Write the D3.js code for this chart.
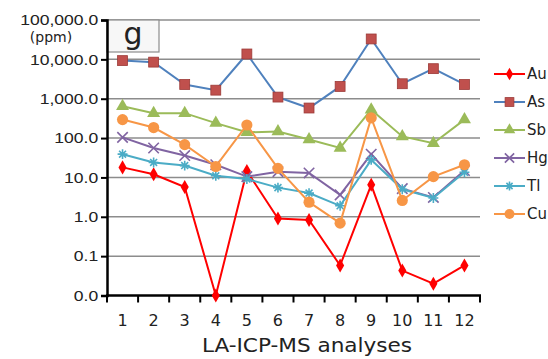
<!DOCTYPE html>
<html>
<head>
<meta charset="utf-8">
<script src="https://cdn.jsdelivr.net/npm/d3@7"></script>
<style>
  html, body { margin: 0; padding: 0; background: #fff; }
  svg { display: block; font-family: "DejaVu Sans", Verdana, sans-serif; }
</style>
</head>
<body>
<svg id="chart" width="548" height="359"></svg>
<script>
// analyses 1..12
const analyses = [ 1, 2, 3, 4, 5, 6, 7, 8, 9, 10, 11, 12 ];
const yTicks = [ 0.01, 0.1, 1, 10, 100, 1000, 10000, 100000 ];

// ppm values (0.01 = "0.0" floor)
const au = [ 18, 12, 5.7, 0.01, 14.5, 0.9, 0.83, 0.058, 6.5, 0.043, 0.02, 0.058 ];
const as = [ 9300, 8500, 2300, 1650, 13700, 1100, 580, 2050, 33000, 2400, 5800, 2300 ];
const sb = [ 640, 430, 430, 240, 140, 147, 92, 56, 525, 110, 74, 295 ];
const hg = [ 104, 56, 36, 21, 10.5, 14, 13, 3.6, 39, 5.2, 3.1, 15 ];
const tl = [ 39, 24, 20, 11, 9.1, 5.5, 4.0, 1.9, 28, 5.0, 3.0, 13.5 ];
const cu = [ 295, 185, 68, 19, 215, 17, 2.35, 0.69, 325, 2.6, 10.5, 21 ];

const series = [
	{ name: 'Au', values: au, line: '#ff0000', fill: '#ff0000', marker: 'diamond' },
	{ name: 'As', values: as, line: '#4f81bd', fill: '#c0504d', marker: 'square' },
	{ name: 'Sb', values: sb, line: '#9bbb59', fill: '#9bbb59', marker: 'triangle' },
	{ name: 'Hg', values: hg, line: '#8064a2', fill: '#8064a2', marker: 'cross' },
	{ name: 'Tl', values: tl, line: '#4bacc6', fill: '#4bacc6', marker: 'star' },
	{ name: 'Cu', values: cu, line: '#f79646', fill: '#f79646', marker: 'circle' },
];

const margin = { top: 20, left: 107, right: 480, bottom: 295.5 };

const svg = d3.select( '#chart' );

const x = d3.scaleBand()
	.domain( analyses )
	.range( [ margin.left, margin.right ] );

const y = d3.scaleLog()
	.domain( [ 0.01, 100000 ] )
	.range( [ margin.bottom, margin.top ] );

const cx = d => x( d ) + x.bandwidth() / 2;

// grid
svg.append( 'g' )
	.selectAll( 'line' )
	.data( yTicks.slice( 1 ) )
	.join( 'line' )
	.attr( 'x1', margin.left )
	.attr( 'x2', margin.right )
	.attr( 'y1', d => y( d ) )
	.attr( 'y2', d => y( d ) )
	.attr( 'stroke', '#8c8c8c' )
	.attr( 'stroke-width', 1.5 );

// "g" panel label
svg.append( 'rect' )
	.attr( 'x', margin.left )
	.attr( 'y', margin.top )
	.attr( 'width', 52 )
	.attr( 'height', 32 )
	.attr( 'fill', '#f7f7f7' )
	.attr( 'stroke', '#8c8c8c' )
	.attr( 'stroke-width', 1.2 );

svg.append( 'text' )
	.attr( 'x', margin.left + 26 )
	.attr( 'y', margin.top + 24 )
	.attr( 'text-anchor', 'middle' )
	.style( 'font-size', '30px' )
	.attr( 'fill', '#222' )
	.text( 'g' );

// y axis
const yAxis = d3.axisLeft( y )
	.tickValues( yTicks )
	.tickFormat( d3.format( ',.1f' ) )
	.tickSize( 6 )
	.tickPadding( 2 );

const yg = svg.append( 'g' )
	.attr( 'transform', `translate(${ margin.left },0)` )
	.call( yAxis );
yg.select( '.domain' ).attr( 'stroke', '#000' ).attr( 'stroke-width', 2.5 );
yg.selectAll( '.tick line' ).attr( 'stroke', '#000' ).attr( 'stroke-width', 2 );
yg.selectAll( 'text' )
	.attr( 'x', -7.5 )
	.attr( 'transform', 'scale(1.17,1)' )
	.style( 'font-size', '15px' )
	.attr( 'fill', '#222' )
	.attr( 'font-family', null );

svg.append( 'text' )
	.attr( 'x', 51 )
	.attr( 'y', 42 )
	.attr( 'text-anchor', 'middle' )
	.style( 'font-size', '14px' )
	.attr( 'fill', '#222' )
	.text( '(ppm)' );

// x axis: ticks at band edges, labels at centres
const xg = svg.append( 'g' );
xg.append( 'line' )
	.attr( 'x1', margin.left - 1 )
	.attr( 'x2', margin.right + 1 )
	.attr( 'y1', margin.bottom )
	.attr( 'y2', margin.bottom )
	.attr( 'stroke', '#000' )
	.attr( 'stroke-width', 2.5 );

const edges = analyses.map( d => x( d ) ).concat( [ margin.right ] );
xg.selectAll( 'line.tick' )
	.data( edges )
	.join( 'line' )
	.attr( 'class', 'tick' )
	.attr( 'x1', d => d )
	.attr( 'x2', d => d )
	.attr( 'y1', margin.bottom )
	.attr( 'y2', margin.bottom + 7 )
	.attr( 'stroke', '#000' )
	.attr( 'stroke-width', 2 );

xg.selectAll( 'text' )
	.data( analyses )
	.join( 'text' )
	.attr( 'x', cx )
	.attr( 'y', 326 )
	.attr( 'text-anchor', 'middle' )
	.style( 'font-size', '16px' )
	.attr( 'fill', '#222' )
	.text( d => d );

svg.append( 'text' )
	.attr( 'transform', 'translate(307,352) scale(1.08,1)' )
	.attr( 'text-anchor', 'middle' )
	.style( 'font-size', '20px' )
	.attr( 'fill', '#222' )
	.text( 'LA-ICP-MS analyses' );

// markers
function drawMarker( sel, s, size ) {
	if ( s.marker === 'circle' ) {
		sel.append( 'circle' ).attr( 'r', size * 0.62 ).attr( 'fill', s.fill );
	} else if ( s.marker === 'square' ) {
		sel.append( 'rect' )
			.attr( 'x', -size * 0.55 ).attr( 'y', -size * 0.55 )
			.attr( 'width', size * 1.1 ).attr( 'height', size * 1.1 )
			.attr( 'fill', s.fill ).attr( 'stroke', '#9c3a37' ).attr( 'stroke-width', 0.8 );
	} else if ( s.marker === 'diamond' ) {
		sel.append( 'path' )
			.attr( 'd', d3.symbol( d3.symbolDiamond, size * size * 0.7 )() )
			.attr( 'fill', s.fill );
	} else if ( s.marker === 'triangle' ) {
		sel.append( 'path' )
			.attr( 'd', d3.symbol( d3.symbolTriangle, size * size * 0.9 )() )
			.attr( 'fill', s.fill );
	} else if ( s.marker === 'cross' ) {
		sel.append( 'path' )
			.attr( 'd', d3.symbol( d3.symbolX, size * size * 0.9 )() )
			.attr( 'fill', 'none' ).attr( 'stroke', s.fill ).attr( 'stroke-width', 1.6 );
	} else if ( s.marker === 'star' ) {
		const r = size * 0.55;
		sel.append( 'path' )
			.attr( 'd', `M${ -r },0H${ r }M${ -r * 0.7 },${ -r * 0.7 }L${ r * 0.7 },${ r * 0.7 }M${ -r * 0.7 },${ r * 0.7 }L${ r * 0.7 },${ -r * 0.7 }M0,${ -r }V${ r }` )
			.attr( 'fill', 'none' ).attr( 'stroke', s.fill ).attr( 'stroke-width', 1.6 );
	}
}

const line = d3.line()
	.x( d => cx( d.a ) )
	.y( d => y( d.v ) );

const plot = svg.append( 'g' );
series.forEach( s => {
	const pts = analyses.map( ( a, i ) => ( { a, v: s.values[ i ] } ) );
	const g = plot.append( 'g' );
	g.append( 'path' )
		.attr( 'd', line( pts ) )
		.attr( 'fill', 'none' )
		.attr( 'stroke', s.line )
		.attr( 'stroke-width', 2 );
	g.selectAll( 'g' )
		.data( pts )
		.join( 'g' )
		.attr( 'transform', d => `translate(${ cx( d.a ) },${ y( d.v ) })` )
		.each( function() { drawMarker( d3.select( this ), s, 9 ); } );
} );

// legend
const legend = svg.append( 'g' )
	.selectAll( 'g' )
	.data( series )
	.join( 'g' )
	.attr( 'transform', ( d, i ) => `translate(494,${ 74 + i * 28 })` );

legend.append( 'line' )
	.attr( 'x1', 0 )
	.attr( 'x2', 31 )
	.attr( 'stroke', d => d.line )
	.attr( 'stroke-width', 2 );
legend.append( 'g' )
	.attr( 'transform', 'translate(15.5,0)' )
	.each( function( d ) { drawMarker( d3.select( this ), d, 8 ); } );
legend.append( 'text' )
	.attr( 'x', 33 )
	.attr( 'dy', '0.35em' )
	.style( 'font-size', '15px' )
	.attr( 'fill', '#222' )
	.text( d => d.name );
</script>
</body>
</html>
